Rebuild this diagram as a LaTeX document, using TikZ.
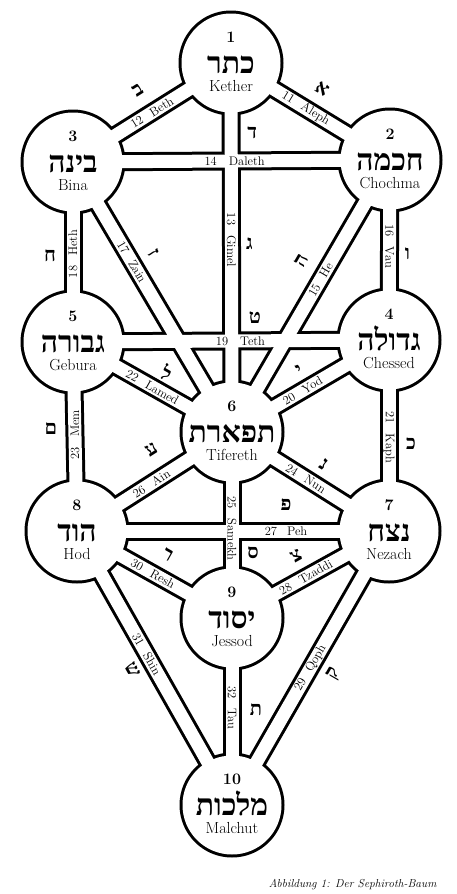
\documentclass[tikz,border=0pt]{standalone}
\usepackage{fontspec}
\newfontfamily\hebfont[Script=Hebrew]{Liberation Serif}
\TeXXeTstate=1
\usetikzlibrary{calc}

\begin{document}
\begin{tikzpicture}[x=1pt, y=-1pt,
  sephira/.style={circle, minimum size=105pt, inner sep=0pt},
  rim/.style={line width=19pt},
  lumen/.style={line width=13pt, white},
  signum/.style={anchor=base, yshift=21pt, font=\bfseries\fontsize{16}{16}\selectfont},
  hebname/.style={anchor=base, yshift=-10pt, font=\hebfont\bfseries\fontsize{30}{30}\selectfont},
  latname/.style={anchor=base, yshift=-28pt, font=\fontsize{16}{16}\selectfont},
  plabel/.style={inner sep=0pt, font=\fontsize{12.5}{12.5}\selectfont},
  hletter/.style={inner sep=0pt, font=\hebfont\bfseries\fontsize{20}{20}\selectfont}]
  \fill[white] (0,0) rectangle (457,894);
  \useasboundingbox (0,0) rectangle (457,894);

  % the ten sephiroth
  \node[sephira] (kether)   at (231,63)  {};
  \node[sephira] (chochma)  at (390,160) {};
  \node[sephira] (bina)     at (73,162)  {};
  \node[sephira] (chessed)  at (389,340) {};
  \node[sephira] (gebura)   at (73,342)  {};
  \node[sephira] (tifereth) at (232,432) {};
  \node[sephira] (nezach)   at (389,531) {};
  \node[sephira] (hod)      at (77,531)  {};
  \node[sephira] (jessod)   at (232,618) {};
  \node[sephira] (malchut)  at (232,805) {};

  % channels: black rims first, then the white inside
  \def\paths{kether/chochma, bina/kether, kether/tifereth, bina/chochma,
    tifereth/chochma, chochma/chessed, bina/tifereth, bina/gebura,
    gebura/chessed, tifereth/chessed, chessed/nezach, gebura/tifereth,
    gebura/hod, tifereth/nezach, tifereth/jessod, hod/tifereth,
    hod/nezach, jessod/nezach, malchut/nezach, hod/jessod,
    hod/malchut, jessod/malchut}
  \foreach \a/\b in \paths \draw[rim] (\a.center) -- (\b.center);
  \foreach \s in {kether,chochma,bina,chessed,gebura,tifereth,nezach,hod,jessod,malchut}
    \fill (\s.center) circle (52.5pt);
  \foreach \a/\b in \paths \draw[lumen] (\a.center) -- (\b.center);
  \foreach \s in {kether,chochma,bina,chessed,gebura,tifereth,nezach,hod,jessod,malchut}
    \fill[white] (\s.center) circle (49.5pt);

  % names in the circles
  \node[signum] (kether-n) at (kether.center) {1};
  \node[hebname] (kether-h) at (kether.center) {\beginR כתר\endR};
  \node[latname] (kether-l) at (kether.center) {Kether};
  \node[signum] (chochma-n) at (chochma.center) {2};
  \node[hebname] (chochma-h) at (chochma.center) {\beginR חכמה\endR};
  \node[latname] (chochma-l) at (chochma.center) {Chochma};
  \node[signum] (bina-n) at (bina.center) {3};
  \node[hebname] (bina-h) at (bina.center) {\beginR בינה\endR};
  \node[latname] (bina-l) at (bina.center) {Bina};
  \node[signum] (chessed-n) at (chessed.center) {4};
  \node[hebname] (chessed-h) at (chessed.center) {\beginR גדולה\endR};
  \node[latname] (chessed-l) at (chessed.center) {Chessed};
  \node[signum] (gebura-n) at (gebura.center) {5};
  \node[hebname] (gebura-h) at (gebura.center) {\beginR גבורה\endR};
  \node[latname] (gebura-l) at (gebura.center) {Gebura};
  \node[signum] (tifereth-n) at (tifereth.center) {6};
  \node[hebname] (tifereth-h) at (tifereth.center) {\beginR תפארת\endR};
  \node[latname] (tifereth-l) at (tifereth.center) {Tifereth};
  \node[signum] (nezach-n) at (nezach.center) {7};
  \node[hebname] (nezach-h) at (nezach.center) {\beginR נצח\endR};
  \node[latname] (nezach-l) at (nezach.center) {Nezach};
  \node[signum] (hod-n) at (hod.center) {8};
  \node[hebname] (hod-h) at (hod.center) {\beginR הוד\endR};
  \node[latname] (hod-l) at (hod.center) {Hod};
  \node[signum] (jessod-n) at (jessod.center) {9};
  \node[hebname] (jessod-h) at (jessod.center) {\beginR יסוד\endR};
  \node[latname] (jessod-l) at (jessod.center) {Jessod};
  \node[signum] (malchut-n) at (malchut.center) {10};
  \node[hebname] (malchut-h) at (malchut.center) {\beginR מלכות\endR};
  \node[latname] (malchut-l) at (malchut.center) {Malchut};

  % the 22 paths with their letters
  \path (kether.center) -- (chochma.center)
    node[plabel, sloped, pos=.47] (p11) {11\hspace{10pt}Aleph}
    node[hletter, sloped, pos=.49, above=19pt] (h11) {א};
  \path (bina.center) -- (kether.center)
    node[plabel, sloped, pos=.50] (p12) {12\hspace{10pt}Beth}
    node[hletter, sloped, pos=.50, above=21pt] (h12) {ב};
  \path (kether.center) -- (tifereth.center)
    node[plabel, rotate=-90, pos=.48] (p13) {13\hspace{10pt}Gimel}
    node[hletter, pos=.49, xshift=18pt] (h13) {ג};
  \path (bina.center) -- (chochma.center)
    node[plabel, pos=.51] (p14) {14\hspace{12pt}Daleth}
    node[hletter, pos=.565, yshift=28pt] (h14) {ד};
  \path (tifereth.center) -- (chochma.center)
    node[plabel, sloped, pos=.56] (p15) {15\hspace{10pt}He}
    node[hletter, sloped, pos=.58, above=20pt] (h15) {ה};
  \path (chochma.center) -- (chessed.center)
    node[plabel, rotate=-90, pos=.48] (p16) {16\hspace{10pt}Vau}
    node[hletter, pos=.52, xshift=18pt] (h16) {ו};
  \path (bina.center) -- (tifereth.center)
    node[plabel, sloped, pos=.37] (p17) {17\hspace{10pt}Zain}
    node[hletter, sloped, pos=.38, above=17pt] (h17) {ז};
  \path (bina.center) -- (gebura.center)
    node[plabel, rotate=90, pos=.51] (p18) {18\hspace{10pt}Heth}
    node[hletter, pos=.52, xshift=-23pt] (h18) {ח};
  \path (gebura.center) -- (chessed.center)
    node[plabel, pos=.53] (p19) {19\hspace{12pt}Teth}
    node[hletter, pos=.576, yshift=23pt] (h19) {ט};
  \path (tifereth.center) -- (chessed.center)
    node[plabel, sloped, pos=.45] (p20) {20\hspace{10pt}Yod}
    node[hletter, sloped, pos=.49, above=13pt] (h20) {י};
  \path (chessed.center) -- (nezach.center)
    node[plabel, rotate=-90, pos=.51] (p21) {21\hspace{10pt}Kaph}
    node[hletter, pos=.54, xshift=22pt] (h21) {כ};
  \path (gebura.center) -- (tifereth.center)
    node[plabel, sloped, pos=.50] (p22) {22\hspace{10pt}Lamed}
    node[hletter, sloped, pos=.53, above=11pt] (h22) {ל};
  \path (gebura.center) -- (hod.center)
    node[plabel, rotate=90, pos=.49] (p23) {23\hspace{10pt}Mem}
    node[hletter, pos=.46, xshift=-24pt] (h23) {ם};
  \path (tifereth.center) -- (nezach.center)
    node[plabel, sloped, pos=.47] (p24) {24\hspace{10pt}Nun}
    node[hletter, sloped, pos=.51, above=16pt] (h24) {נ};
  \path (tifereth.center) -- (jessod.center)
    node[plabel, rotate=-90, pos=.52] (p25) {25\hspace{10pt}Samekh}
    node[hletter, pos=.65, xshift=21pt] (h25) {ס};
  \path (hod.center) -- (tifereth.center)
    node[plabel, sloped, pos=.48] (p26) {26\hspace{10pt}Ain}
    node[hletter, sloped, pos=.58, above=23pt] (h26) {ע};
  \path (hod.center) -- (nezach.center)
    node[plabel, pos=.67] (p27) {27\hspace{10pt}Peh}
    node[hletter, pos=.67, yshift=26pt] (h27) {פ};
  \path (jessod.center) -- (nezach.center)
    node[plabel, sloped, pos=.47] (p28) {28\hspace{10pt}Tzaddi}
    node[hletter, sloped, pos=.48, above=17pt] (h28) {צ};
  \path (malchut.center) -- (nezach.center)
    node[plabel, sloped, pos=.50] (p29) {29\hspace{10pt}Qoph}
    node[hletter, sloped, pos=.52, below=15pt] (h29) {ק};
  \path (hod.center) -- (jessod.center)
    node[plabel, sloped, pos=.49] (p30) {30\hspace{10pt}Resh}
    node[hletter, sloped, pos=.51, above=18pt] (h30) {ר};
  \path (hod.center) -- (malchut.center)
    node[plabel, sloped, pos=.45] (p31) {31\hspace{10pt}Shin}
    node[hletter, sloped, pos=.47, below=14pt] (h31) {ש};
  \path (jessod.center) -- (malchut.center)
    node[plabel, rotate=-90, pos=.48] (p32) {32\hspace{10pt}Tau}
    node[hletter, pos=.49, xshift=24pt] (h32) {ת};

  \node[anchor=base east, font=\itshape\fontsize{11.5}{11.5}\selectfont] (caption)
    at (440,887) {Abbildung 1: Der Sephiroth-Baum};
\end{tikzpicture}
\end{document}
